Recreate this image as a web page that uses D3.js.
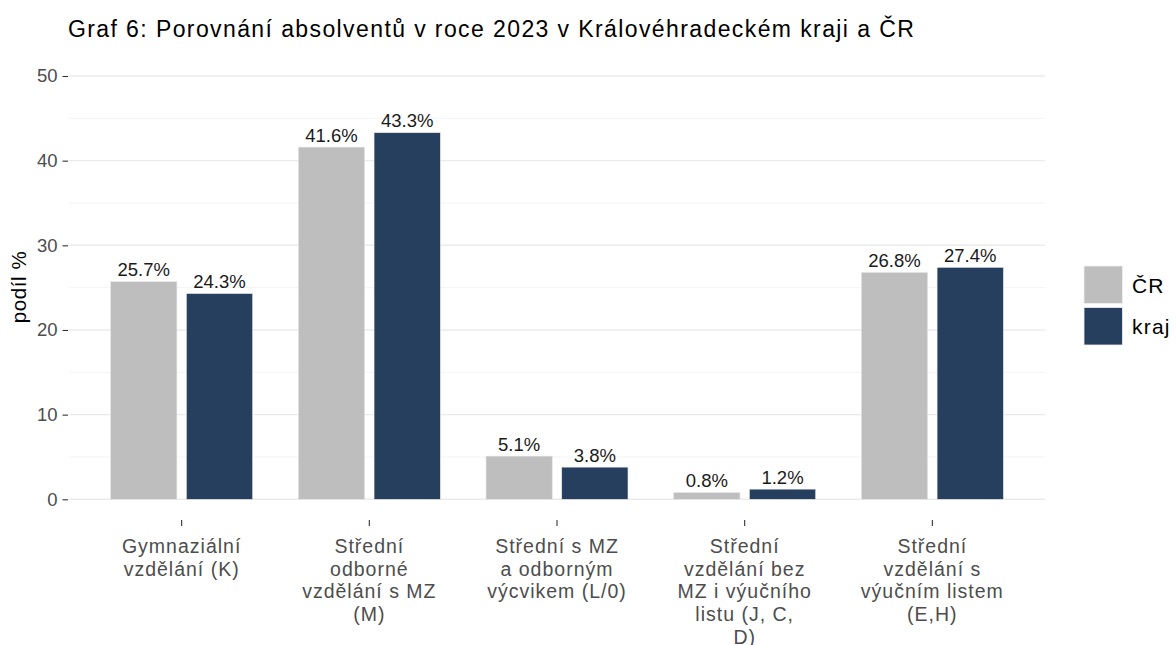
<!DOCTYPE html>
<html lang="cs">
<head>
<meta charset="UTF-8">
<title>Graf 6</title>
<script src="https://d3js.org/d3.v7.min.js"></script>
<style>
  body { margin: 0; background: #fff; }
  svg { font-family: "Liberation Sans", Arial, sans-serif; display: block; }
</style>
</head>
<body>
<svg width="1176" height="645"></svg>
<script>
// data
const categories = [
  "Gymnaziální\nvzdělání (K)",
  "Střední\nodborné\nvzdělání s MZ\n(M)",
  "Střední s MZ\na odborným\nvýcvikem (L/0)",
  "Střední\nvzdělání bez\nMZ i výučního\nlistu (J, C,\nD)",
  "Střední\nvzdělání s\nvýučním listem\n(E,H)"
];
const seriesNames = ["ČR", "kraj"];
const valuesCR = [25.7, 41.6, 5.1, 0.8, 26.8];
const valuesKraj = [24.3, 43.3, 3.8, 1.2, 27.4];
const yTicks = [0, 10, 20, 30, 40, 50];
const yMinor = [5, 15, 25, 35, 45];
const colors = { "ČR": "#bebebe", "kraj": "#263f5f" };

const rows = [];
categories.forEach((c, i) => {
  rows.push({ cat: c, s: "ČR", v: valuesCR[i] });
  rows.push({ cat: c, s: "kraj", v: valuesKraj[i] });
});

const svg = d3.select("svg");
const panel = { left: 69, right: 1045, top: 76, bottom: 499.3 };

const x = d3.scaleBand()
  .domain(categories)
  .range([panel.left, panel.right])
  .paddingInner(0.2435)
  .paddingOuter(0.222);

const xs = d3.scaleBand()
  .domain(seriesNames)
  .range([0, x.bandwidth()])
  .paddingInner(0.125);

const y = d3.scaleLinear()
  .domain([0, 50])
  .range([panel.bottom, panel.top]);

// title
svg.append("text")
  .attr("x", 68).attr("y", 36.5)
  .attr("font-size", 23)
  .attr("letter-spacing", 1.4)
  .attr("fill", "#000")
  .text("Graf 6: Porovnání absolventů v roce 2023 v Královéhradeckém kraji a ČR");

// grid
svg.append("g").selectAll("line").data(yMinor).join("line")
  .attr("x1", panel.left).attr("x2", panel.right)
  .attr("y1", d => y(d)).attr("y2", d => y(d))
  .attr("stroke", "#f4f4f4").attr("stroke-width", 1);
svg.append("g").selectAll("line").data(yTicks).join("line")
  .attr("x1", panel.left).attr("x2", panel.right)
  .attr("y1", d => y(d)).attr("y2", d => y(d))
  .attr("stroke", "#ebebeb").attr("stroke-width", 1.4);

// y axis
const yAxis = d3.axisLeft(y).tickValues(yTicks).tickSize(5.5).tickPadding(5);
const gY = svg.append("g")
  .attr("transform", `translate(${panel.left - 1},0)`)
  .call(yAxis);
gY.select(".domain").remove();
gY.selectAll(".tick line").attr("stroke", "#333").attr("stroke-width", 1.1);
gY.selectAll(".tick text").attr("fill", "#4d4d4d").attr("font-size", 18.5)
  .attr("font-family", "Liberation Sans, Arial, sans-serif");

svg.append("text")
  .attr("transform", `translate(26,287) rotate(-90)`)
  .attr("text-anchor", "middle")
  .attr("font-size", 20.5)
  .attr("letter-spacing", 0.6)
  .attr("fill", "#000")
  .text("podíl %");

// x axis
const xAxis = d3.axisBottom(x).tickSize(6).tickFormat("");
const gX = svg.append("g")
  .attr("transform", "translate(0,520)")
  .call(xAxis);
gX.select(".domain").remove();
gX.selectAll(".tick line").attr("stroke", "#333").attr("stroke-width", 1.1);

const xLabels = svg.append("g").selectAll("text").data(categories).join("text")
  .attr("x", d => x(d) + x.bandwidth() / 2)
  .attr("y", 553)
  .attr("text-anchor", "middle")
  .attr("font-size", 19.5)
  .attr("letter-spacing", 1)
  .attr("fill", "#4d4d4d");
xLabels.selectAll("tspan").data(d => d.split("\n")).join("tspan")
  .attr("x", function () { return d3.select(this.parentNode).attr("x"); })
  .attr("dy", (d, i) => i === 0 ? 0 : 22.7)
  .text(d => d);

// bars
svg.append("g").selectAll("rect").data(rows).join("rect")
  .attr("x", d => x(d.cat) + xs(d.s))
  .attr("width", xs.bandwidth())
  .attr("y", d => y(d.v))
  .attr("height", d => y(0) - y(d.v))
  .attr("fill", d => colors[d.s])
  .attr("stroke", "#e6e6e6")
  .attr("stroke-width", 0.6);

// value labels
svg.append("g").selectAll("text").data(rows).join("text")
  .attr("x", d => x(d.cat) + xs(d.s) + xs.bandwidth() / 2)
  .attr("y", d => y(d.v) - 5.5)
  .attr("text-anchor", "middle")
  .attr("font-size", 18.5)
  .attr("fill", "#1a1a1a")
  .text(d => d.v.toFixed(1) + "%");

// legend
const legend = svg.append("g").attr("transform", "translate(1084,266)");
const li = legend.selectAll("g").data(seriesNames).join("g")
  .attr("transform", (d, i) => `translate(0,${i * 41.5})`);
li.append("rect")
  .attr("width", 38.5).attr("height", 37.5)
  .attr("fill", d => colors[d])
  .attr("stroke", "#f0f0f0").attr("stroke-width", 0.8);
li.append("text")
  .attr("x", 48).attr("y", 19)
  .attr("dy", "0.36em")
  .attr("font-size", 21)
  .attr("letter-spacing", 1.2)
  .attr("fill", "#000")
  .text(d => d);
</script>
</body>
</html>
